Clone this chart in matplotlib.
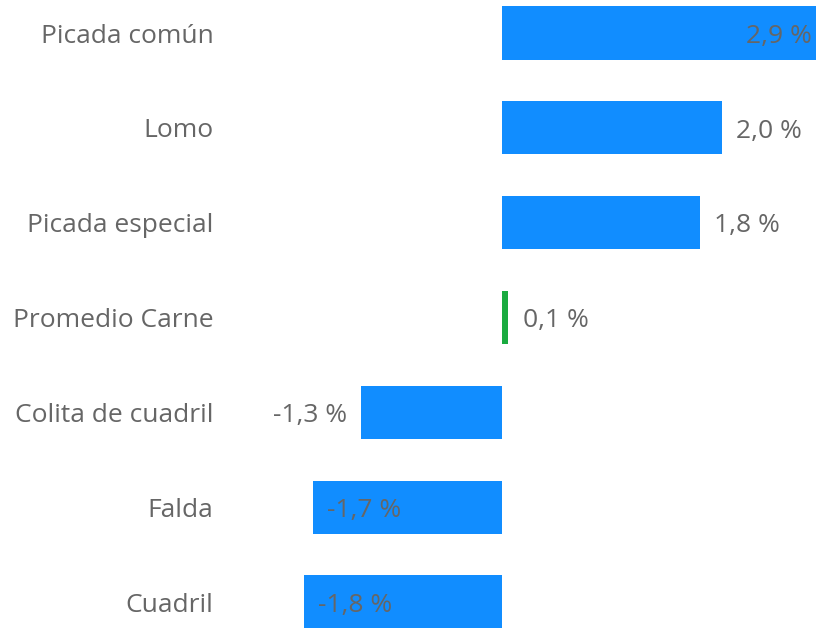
import matplotlib.pyplot as plt
import numpy as np

categorias = ['Picada común', 'Lomo', 'Picada especial', 'Promedio Carne',
              'Colita de cuadril', 'Falda', 'Cuadril']
valores = [2.9, 2.03, 1.83, 0.06, -1.30, -1.745, -1.83]
etiquetas = ['2,9 %', '2,0 %', '1,8 %', '0,1 %', '-1,3 %', '-1,7 %', '-1,8 %']
# donde va la etiqueta: 'in' = dentro de la barra, 'out' = afuera
posicion = ['in', 'out', 'out', 'out', 'out', 'in', 'in']

azul = '#118DFF'
verde = '#1AAB40'
gris = '#666666'
fs = 19

plt.rcParams['font.family'] = ['Open Sans', 'DejaVu Sans']

fig = plt.figure(figsize=(8.16, 6.28), dpi=100)
ax = fig.add_axes([230/816, 0, 586/816, 1])

y = np.arange(len(categorias))
colores = [verde if c == 'Promedio Carne' else azul for c in categorias]
ax.barh(y, valores, height=0.56, color=colores)

ax.set_xlim(-2.512, 2.9)
ax.set_ylim(6.274, -0.348)

ax.set_yticks(y)
ax.set_yticklabels(categorias, fontsize=fs, color=gris)
ax.tick_params(axis='y', length=0, pad=12)
ax.set_xticks([])
for s in ax.spines.values():
    s.set_visible(False)

dx = 0.13
dy = 0.035  # bajar un poco las etiquetas
for i, (v, t, p) in enumerate(zip(valores, etiquetas, posicion)):
    if v >= 0:
        if p == 'in':
            ax.text(v - 0.04, i + dy, t, ha='right', va='center', fontsize=fs, color=gris)
        else:
            ax.text(v + dx, i + dy, t, ha='left', va='center', fontsize=fs, color=gris)
    else:
        if p == 'in':
            ax.text(v + dx, i + dy, t, ha='left', va='center', fontsize=fs, color=gris)
        else:
            ax.text(v - dx, i + dy, t, ha='right', va='center', fontsize=fs, color=gris)

plt.savefig('out.png', dpi=100)
